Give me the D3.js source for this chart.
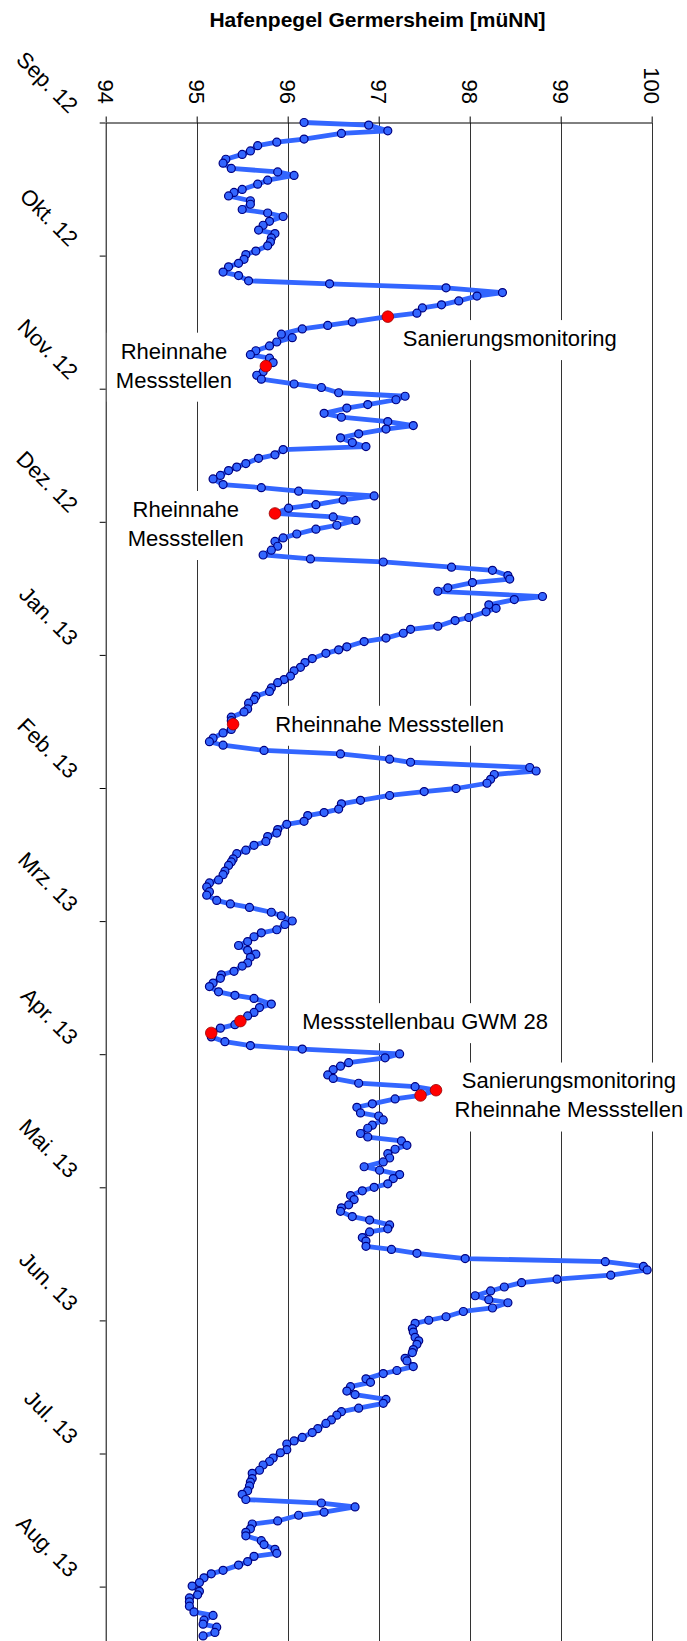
<!DOCTYPE html>
<html>
<head>
<meta charset="utf-8">
<script src="https://cdn.jsdelivr.net/npm/d3@7"></script>
<style>
  html, body { margin: 0; padding: 0; background: #ffffff; }
  svg { display: block; }
  text { font-family: Arial, "Liberation Sans", sans-serif; }
</style>
</head>
<body>
<svg id="chart" width="687" height="1641"></svg>
<script>
// ---------- data ----------
const chartTitle = "Hafenpegel Germersheim [müNN]";
const monthLabels = ["Sep. 12","Okt. 12","Nov. 12","Dez. 12","Jan. 13","Feb. 13","Mrz. 13","Apr. 13","Mai. 13","Jun. 13","Jul. 13","Aug. 13"];
const valueTicks = [94, 95, 96, 97, 98, 99, 100];

// time position of each reading (days after the first axis tick)
const day = [
  0.0,0.6,1.9,2.5,3.8,4.5,5.3,6.5,7.3,8.4,
  9.3,10.5,11.3,12.1,13.2,14.1,15.3,16.0,16.8,17.9,
  18.7,19.9,20.7,21.5,22.6,23.5,24.6,25.4,26.4,27.3,
  28.2,29.4,30.2,31.3,32.2,33.0,34.2,35.0,36.2,36.9,
  37.8,38.9,39.7,40.8,41.7,42.4,43.6,44.4,45.6,46.4,
  47.2,48.4,49.2,50.2,51.1,52.2,53.1,53.9,54.9,55.7,
  57.0,57.8,58.7,59.8,60.6,61.8,62.6,63.4,64.5,65.3,
  66.5,67.4,68.4,69.3,70.1,71.2,72.1,73.2,74.1,74.8,
  76.0,76.8,78.0,78.8,79.6,80.7,81.5,82.8,83.5,84.3,
  85.4,86.3,87.4,88.2,89.4,90.2,91.0,92.1,93.0,94.1,
  95.0,95.8,96.9,97.8,98.9,99.8,100.5,101.7,102.4,103.6,
  104.4,105.2,106.4,107.2,108.4,109.1,110.3,111.1,111.9,113.2,
  113.9,115.2,115.9,116.8,117.9,118.7,119.9,120.6,121.4,122.6,
  123.5,124.6,125.4,126.6,127.4,128.1,129.3,130.1,131.2,132.0,
  132.8,134.1,134.8,136.0,136.8,137.6,138.8,139.6,140.8,141.6,
  142.4,143.6,144.4,145.6,146.3,147.5,148.3,149.1,150.2,151.1,
  152.3,153.0,153.9,155.0,155.8,157.0,157.8,158.5,159.8,160.5,
  161.7,162.5,163.3,164.4,165.3,166.4,167.2,168.4,169.1,169.9,
  171.2,172.0,173.2,173.9,174.8,175.9,176.7,177.9,178.7,179.5,
  180.6,181.4,182.6,183.4,184.6,185.3,186.2,187.3,188.2,189.3,
  190.2,190.9,192.2,192.9,194.1,194.9,195.7,196.8,197.6,198.8,
  199.6,200.3,201.6,202.4,203.5,204.3,205.5,206.3,207.1,208.2,
  209.1,210.2,211.1,211.9,213.0,213.9,215.0,215.8,216.6,217.8,
  218.6,219.7,220.5,221.3,222.5,223.3,224.4,225.2,226.5,227.2,
  228.1,229.3,230.0,231.2,232.0,232.9,233.9,234.8,235.8,236.8,
  237.7,238.8,239.6,240.6,241.5,242.7,243.5,244.3,245.4,246.3,
  247.5,248.2,249.0,250.2,251.0,252.1,253.0,253.7,255.0,255.8,
  257.0,257.7,258.6,259.8,260.5,261.6,262.4,263.6,264.5,265.3,
  266.3,267.2,268.3,269.2,269.9,271.1,271.9,273.1,273.9,274.6,
  275.8,276.6,277.8,278.6,279.4,280.6,281.3,282.6,283.2,284.5,
  285.4,286.1,287.3,288.1,289.1,290.1,290.9,292.0,292.9,294.0,
  294.8,295.6,296.7,297.5,298.7,299.6,300.7,301.5,302.2,303.5,
  304.2,305.4,306.2,307.0,308.2,308.9,310.1,310.9,311.8,312.9,
  313.7,314.9,315.7,316.6,317.8,318.5,319.8,320.5,321.6,322.4,
  323.2,324.3,325.2,326.3,327.2,327.9,329.1,329.9,331.1,331.9,
  332.8,333.9,334.7,335.9,336.7,337.4,338.3,339.3,340.6,341.4,
  342.5,343.4,344.1,345.3,346.1
];

// Hafenpegel [müNN]
const level = [
  96.18,96.89,97.10,96.59,96.18,95.88,95.67,95.59,95.50,95.32,
  95.29,95.38,95.89,96.07,95.78,95.67,95.50,95.41,95.35,95.59,
  95.59,95.50,95.78,95.95,95.80,95.73,95.68,95.86,95.82,95.81,
  95.78,95.65,95.54,95.52,95.46,95.35,95.29,95.46,95.57,96.46,
  97.74,98.36,98.08,97.88,97.69,97.48,97.42,97.10,96.71,96.44,
  96.16,95.93,96.05,95.88,95.80,95.65,95.59,95.80,95.84,95.76,
  95.73,95.66,95.71,96.07,96.37,96.56,97.29,97.19,96.88,96.65,
  96.40,96.59,97.10,97.38,97.08,96.78,96.58,96.71,96.86,95.95,
  95.86,95.68,95.54,95.44,95.35,95.26,95.18,95.29,95.71,96.12,
  96.95,96.61,96.31,96.01,95.86,96.50,96.75,96.54,96.31,96.10,
  95.95,95.86,95.89,95.82,95.73,96.25,97.05,97.80,98.25,98.42,
  98.44,98.03,97.76,97.65,98.80,98.49,98.21,98.29,98.18,97.99,
  97.84,97.65,97.35,97.27,97.08,96.84,96.65,96.56,96.42,96.27,
  96.19,96.14,96.07,96.03,95.96,95.89,95.82,95.80,95.65,95.63,
  95.57,95.56,95.52,95.38,95.38,95.40,95.38,95.29,95.18,95.14,
  95.29,95.74,96.58,97.12,97.35,98.66,98.73,98.27,98.23,98.19,
  97.85,97.50,97.12,96.80,96.59,96.56,96.40,96.22,96.18,95.99,
  95.89,95.88,95.78,95.76,95.63,95.54,95.44,95.40,95.38,95.35,
  95.31,95.29,95.24,95.14,95.11,95.14,95.11,95.22,95.37,95.58,
  95.82,95.93,96.05,95.97,95.88,95.71,95.63,95.56,95.46,95.56,
  95.65,95.59,95.56,95.50,95.41,95.27,95.26,95.18,95.14,95.24,
  95.42,95.63,95.82,95.69,95.63,95.56,95.48,95.42,95.26,95.16,
  95.16,95.31,95.59,96.16,97.23,97.07,96.67,96.58,96.50,96.44,
  96.50,96.78,97.40,97.63,97.46,97.18,96.93,96.76,96.80,97.00,
  97.05,96.93,96.88,96.80,96.88,97.25,97.31,97.18,97.10,97.12,
  97.05,96.84,97.01,97.23,97.16,97.10,96.95,96.82,96.69,96.73,
  96.67,96.59,96.58,96.71,96.90,97.12,97.10,96.90,96.82,96.86,
  96.86,97.14,97.42,97.95,99.49,99.91,99.95,99.55,98.96,98.57,
  98.38,98.23,98.06,98.21,98.42,98.25,97.93,97.74,97.55,97.40,
  97.37,97.38,97.40,97.44,97.42,97.38,97.37,97.29,97.31,97.38,
  97.20,97.05,96.86,96.91,96.69,96.65,96.74,97.08,97.05,96.78,
  96.59,96.54,96.48,96.42,96.33,96.27,96.16,96.07,95.99,95.99,
  95.92,95.84,95.80,95.73,95.69,95.61,95.61,95.59,95.58,95.56,
  95.50,95.54,96.37,96.74,96.40,96.12,95.89,95.61,95.59,95.54,
  95.54,95.71,95.74,95.86,95.88,95.63,95.56,95.46,95.29,95.16,
  95.08,95.03,94.95,95.03,95.01,94.92,94.92,94.92,94.97,95.18,
  95.08,95.07,95.22,95.20,95.07
];

// highlighted sampling dates (red markers)
const eventDay   = [44.4, 55.7, 89.4, 137.6, 205.5, 208.2, 221.3, 222.5];
const eventLevel = [97.10, 95.76, 95.86, 95.40, 95.48, 95.16, 97.63, 97.46];

// annotations (anchored in data coordinates: day / level of text centre)
const noteText  = [
  ["Sanierungsmonitoring"],
  ["Rheinnahe", "Messstellen"],
  ["Rheinnahe", "Messstellen"],
  ["Rheinnahe Messstellen"],
  ["Messstellenbau GWM 28"],
  ["Sanierungsmonitoring", "Rheinnahe Messstellen"]
];
const noteDay   = [49.3, 55.5, 91.7, 137.5, 205.5, 222.4];
const noteLevel = [98.44, 94.75, 94.88, 97.12, 97.51, 99.09];

// ---------- layout ----------
const W = 687, H = 1641;
const axisX0 = 105.7, axisX1 = 651.7;
const axisY0 = 122.5, monthPx = 133.1;
const fontSize = 22, lineH = 29;

const svg = d3.select("#chart");

const x = d3.scaleLinear().domain([94, 100]).range([axisX0, axisX1]);
const y = d3.scaleLinear().domain([0, 365.25]).range([axisY0, axisY0 + 12 * monthPx]);
const monthTickDays = monthLabels.map((_, i) => i * 365.25 / 12);

// title
svg.append("text")
  .attr("x", 377.5).attr("y", 27)
  .attr("text-anchor", "middle")
  .attr("font-weight", "bold")
  .attr("font-size", 21)
  .attr("fill", "#000")
  .text(chartTitle);

// gridlines
svg.append("g").selectAll("line")
  .data(valueTicks.slice(1))
  .join("line")
  .attr("x1", d => Math.round(x(d)) + 0.5).attr("x2", d => Math.round(x(d)) + 0.5)
  .attr("y1", axisY0).attr("y2", H)
  .attr("stroke", "#333").attr("stroke-width", 1);

// top value axis
const gTop = svg.append("g")
  .attr("transform", `translate(0,${axisY0})`)
  .call(d3.axisTop(x).tickValues(valueTicks).tickSize(6).tickSizeOuter(0).tickFormat(d3.format("d")));
gTop.select(".domain").attr("stroke", "#000");
gTop.selectAll(".tick line").attr("stroke", "#000");
gTop.selectAll(".tick text")
  .attr("x", 0).attr("y", 0).attr("dy", "0.36em")
  .attr("transform", "translate(0,-18.5) rotate(90)")
  .attr("text-anchor", "end")
  .attr("font-size", fontSize)
  .attr("font-family", "Arial, 'Liberation Sans', sans-serif")
  .attr("fill", "#000");

// left time axis
const gLeft = svg.append("g")
  .attr("transform", `translate(${axisX0},0)`)
  .call(d3.axisLeft(y).tickValues(monthTickDays).tickSize(6).tickSizeOuter(0)
        .tickFormat((d, i) => monthLabels[i]));
gLeft.select(".domain").attr("stroke", "#000");
gLeft.selectAll(".tick line").attr("stroke", "#000");
gLeft.selectAll(".tick text")
  .attr("x", 0).attr("y", 0).attr("dy", 0)
  .attr("transform", "translate(-37,-8.5) rotate(45)")
  .attr("text-anchor", "end")
  .attr("font-size", fontSize)
  .attr("font-family", "Arial, 'Liberation Sans', sans-serif")
  .attr("fill", "#000");

// annotation boxes (white background hides gridlines)
const notes = noteText.map((lines, i) => ({ lines, cx: x(noteLevel[i]), cy: y(noteDay[i]) }));
const gNotes = svg.append("g");
const noteG = gNotes.selectAll("g").data(notes).join("g");
const noteTexts = noteG.append("text")
  .attr("text-anchor", "middle")
  .attr("font-size", fontSize)
  .attr("fill", "#000");
noteTexts.each(function(d) {
  const t = d3.select(this);
  const capH = 0.716 * fontSize;
  const blockH = (d.lines.length - 1) * lineH + capH;
  const firstBase = d.cy - blockH / 2 + capH;
  d.lines.forEach((ln, k) => {
    t.append("tspan").attr("x", d.cx).attr("y", firstBase + k * lineH).text(ln);
  });
});
noteG.each(function(d) {
  const g = d3.select(this);
  const bb = g.select("text").node().getBBox();
  const h = 11 + lineH * d.lines.length;
  g.insert("rect", "text")
    .attr("x", bb.x - 9).attr("width", bb.width + 18)
    .attr("y", d.cy - h / 2 + 2).attr("height", h)
    .attr("fill", "#fff");
});

// series line
const pts = day.map((d, i) => [d, level[i]]);
svg.append("path")
  .datum(pts)
  .attr("fill", "none")
  .attr("stroke", "#3366ff")
  .attr("stroke-width", 4.8)
  .attr("stroke-linejoin", "round")
  .attr("d", d3.line().x(p => x(p[1])).y(p => y(p[0])));

// markers
svg.append("g").selectAll("circle")
  .data(pts)
  .join("circle")
  .attr("cx", p => x(p[1])).attr("cy", p => y(p[0]))
  .attr("r", 4.0)
  .attr("fill", "#3366ff")
  .attr("stroke", "#000080")
  .attr("stroke-width", 1.2);

// highlighted events
svg.append("g").selectAll("circle")
  .data(eventDay.map((d, i) => [d, eventLevel[i]]))
  .join("circle")
  .attr("cx", p => x(p[1])).attr("cy", p => y(p[0]))
  .attr("r", 5.8)
  .attr("fill", "#ff0000")
  .attr("stroke", "#990000")
  .attr("stroke-width", 0.8);

// keep notes on top
gNotes.raise();
</script>
</body>
</html>
